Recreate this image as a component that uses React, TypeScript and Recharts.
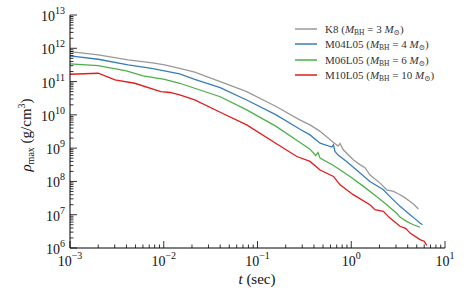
import React from 'react';
import { LineChart, Line, XAxis, YAxis, Legend, Label } from 'recharts';

// t (sec) and rho_max (g/cm^3), one pair of arrays per model
const k8Time = [0.001, 0.002, 0.00417, 0.0076, 0.0102, 0.0148, 0.0214, 0.04, 0.0767, 0.158, 0.282, 0.363, 0.465, 0.646, 0.726, 0.76, 0.822, 1.05, 1.24, 1.4, 1.58, 2.03, 2.39, 2.82, 3.2, 3.59, 4.24, 4.7, 5.19];
const k8Rho = [7.94e11, 6.31e11, 4.47e11, 3.63e11, 3.16e11, 2.51e11, 1.91e11, 1.0e11, 5.0e10, 1.78e10, 7.1e9, 5.0e9, 3.2e9, 1.48e9, 1.15e9, 1.38e9, 8.9e8, 4.5e8, 3.2e8, 2.6e8, 1.58e8, 8.9e7, 5.6e7, 5.0e7, 4.2e7, 3.5e7, 2.5e7, 2.0e7, 1.48e7];

const m04Time = [0.001, 0.002, 0.00417, 0.0074, 0.0148, 0.0214, 0.04, 0.0767, 0.158, 0.284, 0.363, 0.465, 0.62, 0.646, 0.67, 0.72, 0.89, 1.14, 1.58, 2.2, 2.59, 3.31, 3.8, 4.24, 4.8, 5.41, 5.75];
const m04Rho = [5.89e11, 4.68e11, 3.16e11, 2.51e11, 1.7e11, 1.17e11, 6.6e10, 2.8e10, 1.0e10, 3.7e9, 2.5e9, 1.41e9, 1.08e9, 1.26e9, 8.0e8, 6.3e8, 4.0e8, 2.2e8, 1.0e8, 5.6e7, 3.5e7, 1.78e7, 1.3e7, 1.0e7, 7.5e6, 5.6e6, 5.0e6];

const m06Time = [0.001, 0.002, 0.004, 0.006, 0.0102, 0.0148, 0.0214, 0.04, 0.0767, 0.158, 0.284, 0.363, 0.417, 0.442, 0.465, 0.646, 0.97, 1.35, 1.86, 2.39, 3.05, 3.31, 3.89, 4.6, 5.41];
const m06Rho = [3.39e11, 3.02e11, 2.09e11, 1.48e11, 1.17e11, 8.9e10, 6.3e10, 3.5e10, 1.41e10, 4.5e9, 1.48e9, 9.3e8, 6.0e8, 7.4e8, 5.0e8, 3.0e8, 1.41e8, 7.1e7, 3.5e7, 2.0e7, 1.1e7, 8.5e6, 6.3e6, 5.0e6, 4.2e6];

const m10Time = [0.001, 0.002, 0.00302, 0.0049, 0.0093, 0.0117, 0.0148, 0.0214, 0.04, 0.0767, 0.158, 0.263, 0.363, 0.465, 0.646, 0.76, 1.05, 1.58, 1.79, 2.2, 2.59, 3.31, 3.8, 4.24, 5.41, 6.0, 6.38];
const m10Rho = [1.66e11, 1.78e11, 1.12e11, 8.9e10, 5.0e10, 4.7e10, 4.0e10, 2.8e10, 1.2e10, 5.0e9, 1.38e9, 5.6e8, 4.0e8, 2.2e8, 1.41e8, 7.9e7, 4.0e7, 2.0e7, 1.41e7, 1.26e7, 7.9e6, 4.5e6, 3.9e6, 2.8e6, 1.78e6, 1.6e6, 1.2e6];

const models = ['K8', 'M04L05', 'M06L05', 'M10L05'];
const bhMass = [3, 4, 6, 10];
const colors = ['#999999', '#377eb8', '#4daf4a', '#e41a1c'];

const xDecades = [-3, -2, -1, 0, 1];
const yDecades = [6, 7, 8, 9, 10, 11, 12, 13];

const serif = '"Liberation Serif", "DejaVu Serif", serif';

const zip = (t: number[], r: number[]) => t.map((v, i) => ({ t: v, rho: r[i] }));
const series = [
  zip(k8Time, k8Rho),
  zip(m04Time, m04Rho),
  zip(m06Time, m06Rho),
  zip(m10Time, m10Rho),
];

const withMinors = (decades: number[]) => {
  const out: number[] = [];
  decades.forEach((e, i) => {
    out.push(10 ** e);
    if (i < decades.length - 1) for (let m = 2; m <= 9; m++) out.push(m * 10 ** e);
  });
  return out;
};
const xTicks = withMinors(xDecades);
const yTicks = withMinors(yDecades);

const expOf = (v: number) => {
  const lg = Math.log10(v);
  const r = Math.round(lg);
  return Math.abs(lg - r) < 1e-6 ? r : null;
};
const expText = (e: number) => (e < 0 ? '\u2212' + Math.abs(e) : String(e));

const MAJOR = 7;
const MINOR = 3.5;

function TickMark(props: any) {
  const { x, y, payload, side, labels } = props;
  const e = expOf(payload.value);
  const len = e !== null ? MAJOR : MINOR;
  let x2 = x, y2 = y;
  if (side === 'bottom') y2 = y - len;
  if (side === 'top') y2 = y + len;
  if (side === 'left') x2 = x + len;
  if (side === 'right') x2 = x - len;
  return (
    <g>
      <line x1={x} y1={y} x2={x2} y2={y2} stroke="#000" strokeWidth={0.8} />
      {labels && e !== null && side === 'bottom' && (
        <text x={x} y={y + 18} textAnchor="middle" style={{ fontFamily: serif }} fontSize={14} fill="#111">
          10<tspan dy={-7} fontSize={10}>{expText(e)}</tspan>
        </text>
      )}
      {labels && e !== null && side === 'left' && (
        <text x={x - 5} y={y + 6} textAnchor="end" style={{ fontFamily: serif }} fontSize={14} fill="#111">
          10<tspan dy={-7} fontSize={10}>{expText(e)}</tspan>
        </text>
      )}
    </g>
  );
}

function YTitle() {
  return (
    <text x={31} y={135} transform="rotate(-90, 31, 135)" textAnchor="middle" style={{ fontFamily: serif }} fontSize={15} fill="#111">
      <tspan fontStyle="italic">ρ</tspan>
      <tspan fontSize={10} dy={3}>max</tspan>
      <tspan dy={-3}> (g/cm</tspan>
      <tspan fontSize={10} dy={-6}>3</tspan>
      <tspan dy={6}>)</tspan>
    </text>
  );
}

function XTitle() {
  return (
    <text x={257} y={284} textAnchor="middle" style={{ fontFamily: serif }} fontSize={15} fill="#111">
      <tspan fontStyle="italic">t</tspan> (sec)
    </text>
  );
}

function LegendBox(props: any) {
  const { payload } = props;
  const sub = { fontSize: 7.5, position: 'relative' as const, top: 2 };
  return (
    <div style={{ fontFamily: serif, fontSize: 11, color: '#333' }}>
      {(payload || []).map((p: any, i: number) => (
        <div key={i} style={{ display: 'flex', alignItems: 'center', height: 15.5, whiteSpace: 'nowrap' }}>
          <svg width={22} height={4} style={{ marginRight: 8 }}>
            <line x1={0} x2={22} y1={2} y2={2} stroke={p.color} strokeWidth={1.5} />
          </svg>
          <span>
            {p.value} (<i>M</i><span style={sub}>BH</span> = {bhMass[models.indexOf(p.value)]} <i>M</i>
            <span style={sub}>⊙</span>)
          </span>
        </div>
      ))}
    </div>
  );
}

export default function App() {
  return (
    <div style={{ position: 'absolute', left: 0, top: 0, width: 469, height: 293, background: '#fff' }}>
      <LineChart width={469} height={293} margin={{ top: 15, right: 24, bottom: 0, left: 0 }}>
        <XAxis
          xAxisId="b"
          dataKey="t"
          type="number"
          scale="log"
          domain={[1e-3, 10]}
          allowDataOverflow
          ticks={xTicks}
          interval={0}
          height={45}
          tickSize={0}
          tickMargin={0}
          tickLine={false}
          axisLine={{ stroke: '#000', strokeWidth: 1 }}
          tick={(p: any) => <TickMark {...p} side="bottom" labels />}
        >
          <Label content={<XTitle />} />
        </XAxis>
        <XAxis
          xAxisId="t"
          orientation="top"
          type="number"
          scale="log"
          domain={[1e-3, 10]}
          allowDataOverflow
          ticks={xTicks}
          interval={0}
          height={0}
          tickSize={0}
          tickMargin={0}
          tickLine={false}
          axisLine={{ stroke: '#000', strokeWidth: 1 }}
          tick={(p: any) => <TickMark {...p} side="top" />}
        />
        <YAxis
          yAxisId="l"
          dataKey="rho"
          type="number"
          scale="log"
          domain={[1e6, 1e13]}
          allowDataOverflow
          ticks={yTicks}
          interval={0}
          width={70}
          tickSize={0}
          tickMargin={0}
          tickLine={false}
          axisLine={{ stroke: '#000', strokeWidth: 1 }}
          tick={(p: any) => <TickMark {...p} side="left" labels />}
        >
          <Label content={<YTitle />} />
        </YAxis>
        <YAxis
          yAxisId="r"
          orientation="right"
          type="number"
          scale="log"
          domain={[1e6, 1e13]}
          allowDataOverflow
          ticks={yTicks}
          interval={0}
          width={0}
          tickSize={0}
          tickMargin={0}
          tickLine={false}
          axisLine={{ stroke: '#000', strokeWidth: 1 }}
          tick={(p: any) => <TickMark {...p} side="right" />}
        />
        {series.map((d, i) => (
          <Line
            key={models[i]}
            xAxisId="b"
            yAxisId="l"
            data={d}
            dataKey="rho"
            name={models[i]}
            type="linear"
            stroke={colors[i]}
            strokeWidth={1.3}
            dot={false}
            isAnimationActive={false}
          />
        ))}
        <Legend
          layout="horizontal"
          verticalAlign="middle"
          align="center"
          content={<LegendBox />}
          wrapperStyle={{ left: 295, top: 21, width: 'auto' }}
        />
      </LineChart>
    </div>
  );
}
